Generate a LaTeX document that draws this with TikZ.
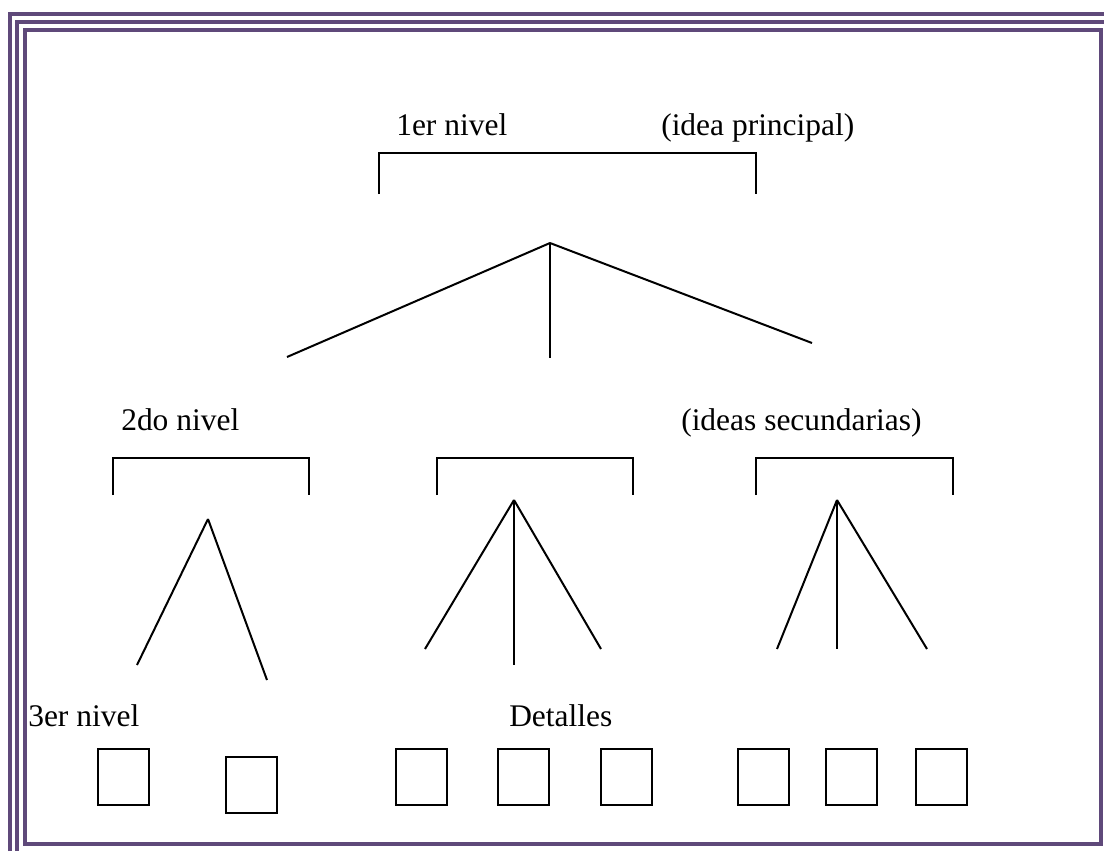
\documentclass[tikz,border=0pt]{standalone}
\usepackage{fontspec}
\setmainfont{Liberation Serif}
\usetikzlibrary{positioning}
\definecolor{framepurple}{HTML}{5F497A}

\begin{document}
\begin{tikzpicture}[x=0.75pt,y=-0.75pt,
  line/.style={line width=1.5pt},
  frame/.style={draw=framepurple,line width=3pt},
  level/.style={inner sep=0pt,anchor=base west,font=\fontsize{23.6}{28}\selectfont},
  detail/.style={draw,line width=1.5pt,minimum width=38.25pt,minimum height=42pt,inner sep=0pt}]
\useasboundingbox (0,0) rectangle (1104,851);

% marco
\draw[frame] (9.5,851) |- (1104,14);
\draw[frame] (17.3,851) |- (1104,22);
\draw[frame] (24.7,30) rectangle (1101,844.3);

% 1er nivel
\node[level] (n1) at (396,135) {1er nivel};
\node[level] (idea) at (661,135) {(idea principal)};
\draw[line] (379,194) |- (756,153) -- (756,194);
\coordinate (top) at (550,243);
\coordinate (s1) at (287,357);
\coordinate (s2) at (550,358);
\coordinate (s3) at (812,343);
\path[line] (top) edge (s1) edge (s2) edge (s3);

% 2do nivel
\node[level] (n2) at (121,430) {2do nivel};
\node[level] (ideas) at (681,430) {(ideas secundarias)};
\draw[line] (113,495) |- (309,458) -- (309,495);
\draw[line] (437,495) |- (633,458) -- (633,495);
\draw[line] (756,495) |- (953,458) -- (953,495);
\coordinate (ta) at (208,519);
\coordinate (a1) at (137,665);
\coordinate (a2) at (267,680);
\path[line] (ta) edge (a1) edge (a2);
\coordinate (tb) at (514,500);
\coordinate (b1) at (425,649);
\coordinate (b2) at (514,665);
\coordinate (b3) at (601,649);
\path[line] (tb) edge (b1) edge (b2) edge (b3);
\coordinate (tc) at (837,500);
\coordinate (c1) at (777,649);
\coordinate (c2) at (837,649);
\coordinate (c3) at (927,649);
\path[line] (tc) edge (c1) edge (c2) edge (c3);

% 3er nivel
\node[level] (n3) at (28,726) {3er nivel};
\node[level] (det) at (509,726) {Detalles};
\foreach \x/\y [count=\i] in {123.5/777,251.5/784.5,421.5/777,523.5/777,626.5/777,763.5/777,851.5/777,941.5/777}
  \node[detail] (box\i) at (\x,\y) {};
\end{tikzpicture}
\end{document}
